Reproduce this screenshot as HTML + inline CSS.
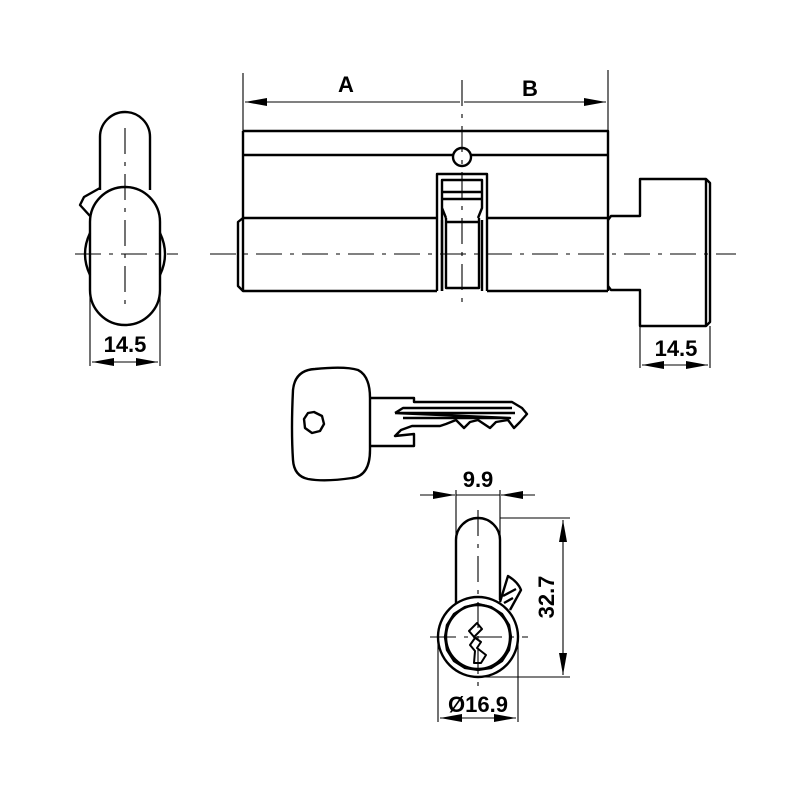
<!DOCTYPE html>
<html><head><meta charset="utf-8"><style>body{margin:0;background:#fff}svg{display:block}</style></head><body>
<svg width="800" height="800" viewBox="0 0 800 800" xmlns="http://www.w3.org/2000/svg">
<defs><marker id="ar" viewBox="0 0 10 10" refX="10" refY="5" markerWidth="22" markerHeight="8" markerUnits="userSpaceOnUse" orient="auto-start-reverse" preserveAspectRatio="none"><path d="M0,0 L10,5 L0,10z" fill="#000"/></marker></defs>
<g fill="none" stroke="#000" stroke-width="2.4" stroke-linejoin="round">
<!-- left view -->
<path d="M100,190 L100,137 A25,25 0 0 1 150,137 L150,190"/>
<path d="M100,188 L84,197 L80,205 L90,216"/>
<path d="M90,222 A35,35 0 0 1 160,222 L160,290 A35,35 0 0 1 90,290 Z" fill="#fff"/>
<path d="M90,233 Q80,254 90,275"/><path d="M160,233 Q170,254 160,275"/>
<!-- main body -->
<path d="M243,131 L608,131 L608,218 M243,131 L243,218 M243,155 L608,155"/>
<path d="M243,218 L437,218 M487,218 L608,218"/>
<path d="M243,218 L238,222 L238,286 L243,291 L437,291 M487,291 L608,291"/>
<path d="M243,218 L243,291"/>
<path d="M608,218 L608,291"/>
<circle cx="462" cy="157" r="9" fill="#fff"/>
<path d="M437,291 L437,174 L487,174 L487,291"/>
<path d="M442,291 L442,180 L482,180 L482,200 M442,192 L482,192 M442,199 L482,199 M442,200 L442,208 L446,218 M482,200 L482,208 L478,218"/>
<path d="M446,218 L446,288 L479,288 L479,218 M446,222 L479,222 M442,220 L442,291 M482,220 L482,291"/>
<!-- knob -->
<path d="M608,220 L611,216 L640,216 L640,179 L706,179 L710,183 L710,322 L706,326 L640,326 L640,290 L611,290 L608,286"/>
<path d="M706,179 L706,326"/>
<!-- key -->
<path d="M315,369 Q345,366 358,370 Q370,376 370,398 L370,450 Q370,476 352,478 Q325,482 308,479 Q294,476 293,460 Q291,430 293,390 Q295,370 315,369Z"/>
<polygon points="314,412 322,416 324,424 320,431 312,433 305,428 304,419 308,413"/>
<path d="M370,398 L414,398 L414,402 L512,402 L522,408 L527,414 L520,422 L514,428 L508,420 L496,422 L490,428 L478,420 L470,422 L464,428 L456,420 L446,424 L440,426 L412,426 L401,430 L395,436 L414,434 L414,446 L370,446"/>
<path d="M395,413 L515,413 M395,413 L403,408 L512,408 M403,418 L510,418 L395,413"/>
<!-- bottom view -->
<path d="M456,604 L456,540 A22,22 0 0 1 500,540 L500,600"/>
<path d="M500,602 L508,576 Q518,582 521,590 L510,610"/>
<path d="M503,596 L516,589 M504,603 L513,598"/>
<circle cx="478" cy="637" r="40" fill="#fff"/>
<polygon points="478,604 491,607 502,614 509,625 511,637 509,650 502,661 491,668 478,670 465,668 454,661 447,650 445,637 447,625 454,614 465,607"/>
<circle cx="478" cy="637" r="32"/>
<path d="M477,623 L482,629 L474,637 L481,642 L477,648 L486,655 L481,663 L474,663 L475,651 L470,645 L475,638 L469,631 Z" stroke-width="2"/>
</g>
<!-- thin lines -->
<g fill="none" stroke="#000" stroke-width="1.1">
<path d="M243,73 L243,131 M608,70 L608,131"/>
<path d="M90,290 L90,366 M160,290 L160,366 M640,326 L640,368 M710,326 L710,368"/>
<path d="M456,490 L456,560 M500,490 L500,560 M500,518 L570,518 M478,677 L570,677 M438,637 L438,722 M518,637 L518,722"/>
<path d="M245,102 L460,102 M464,102 L606,102" marker-start="url(#ar)" marker-end="url(#ar)"/>
<path d="M92,362 L158,362" marker-start="url(#ar)" marker-end="url(#ar)"/>
<path d="M642,365 L708,365" marker-start="url(#ar)" marker-end="url(#ar)"/>
<path d="M420,495 L455,495" marker-end="url(#ar)"/><path d="M535,495 L501,495" marker-end="url(#ar)"/>
<path d="M456,495 L500,495"/>
<path d="M563,520 L563,675" marker-start="url(#ar)" marker-end="url(#ar)"/>
<path d="M440,718 L516,718" marker-start="url(#ar)" marker-end="url(#ar)"/>
</g>
<g fill="none" stroke="#000" stroke-width="1.1" stroke-dasharray="26,8,4,8">
<path d="M125,128 L125,308 M75,254 L178,254"/>
<path d="M210,254 L736,254 M462,80 L462,310"/>
<path d="M478,510 L478,688 M430,637 L528,637"/>
</g>
<g font-family="Liberation Sans, sans-serif" font-weight="bold" font-size="22" text-anchor="middle" fill="#000">
<text x="346" y="92">A</text><text x="530" y="96">B</text>
<text x="125" y="352">14.5</text><text x="676" y="356">14.5</text>
<text x="478" y="487">9.9</text>
<text x="478" y="712">Ø16.9</text>
<text transform="translate(554,597) rotate(-90)">32.7</text>
</g>
</svg>
</body></html>
